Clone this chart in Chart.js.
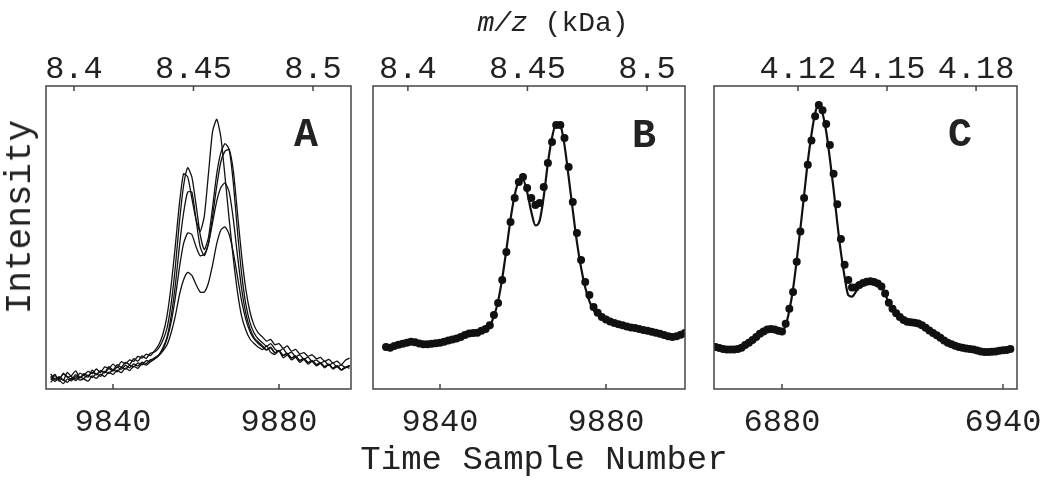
<!DOCTYPE html>
<html>
<head>
<meta charset="utf-8">
<script src="https://cdn.jsdelivr.net/npm/chart.js@4.4.1/dist/chart.umd.min.js"></script>
<style>
body{margin:0;background:#fff;width:1050px;height:481px;overflow:hidden;position:relative;font-family:"Liberation Mono",monospace;color:#222}
canvas{position:absolute;left:0;top:0}
.t{position:absolute;line-height:1;white-space:nowrap;transform:translate(-50%,-50%)}
.lab{font-weight:bold;font-size:40px}
</style>
</head>
<body>
<canvas id="cA" width="1050" height="481"></canvas>
<canvas id="cB" width="1050" height="481"></canvas>
<canvas id="cC" width="1050" height="481"></canvas>

<div class="t" style="left:553px;top:24px;font-size:28px"><i>m/z</i> (kDa)</div>
<div class="t" style="left:544px;top:460px;font-size:34px">Time Sample Number</div>
<div class="t" style="left:21px;top:217px;font-size:36px;transform:translate(-50%,-50%) rotate(-90deg)">Intensity</div>
<div class="t lab" style="left:306px;top:136px">A</div>
<div class="t lab" style="left:644px;top:137px">B</div>
<div class="t lab" style="left:960px;top:136px">C</div>

<script>
// panel A: five raw spectra, one value per time sample from 9825
const firstA = 9825;
const traceA1 = [3.5, 4.8, 2.6, 5.2, 3.9, 4.4, 6.0, 3.8, 4.6, 5.8,
  5.1, 6.6, 5.4, 7.3, 6.8, 8.2, 7.1, 9.0, 8.3, 9.6,
  9.1, 10.8, 10.2, 11.5, 11.0, 12.6, 14.5, 18.0,
  24, 34, 47, 61, 71, 70, 63, 56, 52, 57, 71, 85, 89, 83, 70, 56, 43, 32, 24, 19.5, 16.5, 15, 13.8,
  13.0, 14.2, 12.1, 11.4, 12.6, 10.3, 11.2, 9.6, 10.4, 8.8, 9.7, 8.2, 9.1, 7.6, 8.4, 7.0, 8.1, 6.6, 7.5, 6.2, 7.3, 6.8];
const traceA2 = [5.0, 3.2, 4.1, 2.8, 5.5, 4.0, 3.4, 5.2, 4.5, 3.9,
  6.2, 4.8, 6.0, 5.5, 7.4, 6.3, 8.0, 7.2, 8.8, 8.1,
  10.0, 9.2, 10.9, 10.1, 11.8, 12.2, 13.5, 16.0,
  20, 28, 40, 55, 67, 73, 70, 61, 51, 46, 50, 60, 71, 78, 81, 79, 68, 52, 38, 28, 22, 18.5, 16.5,
  15.3, 14.1, 15.0, 13.2, 12.4, 13.3, 11.5, 12.2, 10.6, 11.3, 9.8, 10.5, 9.0, 9.6, 8.5, 9.2, 7.8, 8.6, 7.2, 8.0, 7.0, 7.6];
const traceA3 = [2.2, 3.6, 3.0, 1.8, 3.3, 2.7, 4.1, 2.9, 3.5, 4.6,
  3.8, 5.0, 4.2, 5.8, 5.1, 6.4, 5.7, 7.1, 6.6, 7.8,
  7.3, 8.6, 8.0, 9.4, 9.0, 10.3, 11.2, 13.5,
  17, 24, 34, 47, 58, 65, 65, 56, 47, 44, 48, 57, 67, 75, 78.5, 79, 72, 58, 44, 33, 25.5, 21, 18.5,
  17.2, 15.8, 16.4, 14.6, 15.0, 13.4, 14.2, 12.5, 13.1, 11.6, 12.0, 10.8, 11.3, 10.0, 10.4, 9.1, 9.8, 8.6, 9.2, 8.0, 9.5, 10.2];
const traceA4 = [4.2, 2.5, 3.8, 3.1, 2.2, 3.6, 2.8, 4.0, 3.3, 2.6,
  4.3, 3.5, 4.9, 4.1, 5.6, 4.8, 6.2, 5.4, 6.9, 6.1,
  7.5, 6.8, 8.4, 7.9, 9.0, 9.8, 11.0, 13.0,
  16.5, 22, 30, 40, 48, 51.5, 51, 47, 44, 44.5, 48, 55, 62, 66.5, 68, 65, 56, 44, 33, 25, 20, 17, 15.5,
  14.3, 13.0, 13.8, 12.0, 12.7, 11.2, 11.8, 10.3, 10.9, 9.5, 10.1, 8.8, 9.4, 8.1, 8.7, 7.4, 8.2, 6.9, 7.7, 6.4, 7.1, 7.8];
const traceA5 = [3.0, 4.4, 3.3, 4.9, 4.1, 3.2, 4.7, 3.6, 5.1, 4.3,
  5.5, 4.7, 6.1, 5.3, 6.7, 5.9, 7.2, 6.5, 7.8, 7.0,
  8.3, 7.6, 8.9, 8.4, 9.6, 10.1, 11.0, 12.5,
  14.5, 18.5, 24, 31, 36, 38.5, 37.5, 34.5, 32, 32, 35, 41, 48, 52.5, 53.5, 51, 45, 37, 29, 23, 19, 16.5, 15,
  13.9, 12.8, 13.6, 11.9, 12.5, 11.0, 11.6, 10.2, 10.8, 9.4, 10.0, 8.7, 9.3, 8.0, 8.6, 7.3, 8.0, 6.8, 7.5, 6.3, 7.0, 7.7];

// panel B: averaged spectrum (dots) and model fit, from sample 9827
const firstB = 9827;
const dotsB = [13.9, 13.6, 14.2, 14.6, 14.9, 15.3, 15.6, 15.4, 15.0, 14.8,
  14.8, 14.9, 15.1, 15.3, 15.6, 16.0, 16.3, 16.7, 17.2, 17.8,
  18.3, 18.5, 18.6, 19.2, 19.8, 21.0,
  24.4, 28.4, 36.0, 45.2, 55.1, 63.0, 68.3, 70.0, 66.3, 63.0, 60.7, 61.4, 66.7, 74.6, 81.5, 87.1, 87.1, 82.8, 73.3, 61.7, 51.5, 42.6, 35.3, 31.0, 27.1, 25.2, 23.8,
  22.9, 22.3, 21.8, 21.4, 21.0, 20.6, 20.3, 20.1, 19.8, 19.5, 19.2, 18.9, 18.6, 18.2, 17.8, 17.4, 17.2, 17.4, 17.9, 18.5];
const fitB = [13.8, 13.9, 14.2, 14.5, 14.8, 15.1, 15.2, 15.2, 15.1, 15.0,
  15.0, 15.1, 15.2, 15.4, 15.7, 16.0, 16.3, 16.7, 17.2, 17.7,
  18.1, 18.5, 18.8, 19.2, 19.8, 21.0,
  24, 29, 36.5, 46, 56, 64, 68.5, 69, 65, 58.5, 54, 55.5, 63.5, 74.5, 83, 87.5, 87, 80.5, 70, 59, 48.5, 40, 33.5, 29, 26, 24.5, 23.5,
  22.8, 22.2, 21.8, 21.4, 21.0, 20.6, 20.3, 20.0, 19.7, 19.4, 19.1, 18.8, 18.5, 18.2, 17.9, 17.6, 17.4, 17.5, 17.9, 18.4];

// panel C: second peak, from sample 6862
const firstC = 6862;
const dotsC = [13.9, 13.5, 13.2, 13.0, 13.0, 13.0, 13.2, 13.6, 14.5, 15.3,
  16.2, 17.2, 18.2, 19.0, 19.6, 19.8, 19.6, 19.2, 19.0, 21.5,
  26.5, 32, 42, 52, 63, 74, 82, 90, 93.7, 92,
  87.5, 80.5, 71, 61, 49.5, 41, 36, 33.5, 33.5, 34.3,
  35, 35.4, 35.6, 35.3, 34.8, 33.8, 31.5, 28.5, 26.5, 25,
  23.8, 22.8, 22.2, 22, 21.9, 21.6, 21, 20.2, 19.3, 18.5,
  17.7, 16.9, 16, 15.3, 14.8, 14.3, 13.9, 13.6, 13.4, 13.2,
  13, 12.7, 12.4, 12.2, 12.2, 12.3, 12.4, 12.6, 12.8, 12.9, 13.2];
const fitC = [13.8, 13.5, 13.2, 13.0, 13.0, 13.0, 13.2, 13.6, 14.4, 15.3,
  16.2, 17.2, 18.1, 18.9, 19.5, 19.7, 19.6, 19.3, 19.2, 21,
  26, 33, 42.5, 53, 64, 75, 84, 91, 94, 91,
  85, 76, 66, 55, 45, 37, 31, 30.5, 32, 34,
  35, 35.4, 35.5, 35.2, 34.7, 33.6, 31.3, 28.5, 26.5, 25,
  23.8, 22.8, 22.2, 22, 21.9, 21.6, 21, 20.2, 19.3, 18.5,
  17.7, 16.9, 16, 15.3, 14.8, 14.3, 13.9, 13.6, 13.4, 13.2,
  13, 12.7, 12.4, 12.2, 12.2, 12.3, 12.4, 12.6, 12.8, 12.9, 13.2];

// axis ticks
const timeTicksAB = [9840, 9880];
const timeTicksC = [6880, 6940];
const mzTicksAB = [8.4, 8.45, 8.5];
const mzTicksC = [4.12, 4.15, 4.18];

function pts(first, vals) {
  return vals.map((v, i) => ({x: first + i, y: v}));
}

const ink = '#111';
const frame = {
  id: 'frame',
  afterDraw(chart) {
    const ctx = chart.ctx, a = chart.chartArea;
    const sx = chart.scales.x, st = chart.scales.x2;
    ctx.save();
    ctx.strokeStyle = '#444';
    ctx.lineWidth = 1.5;
    ctx.strokeRect(a.left, a.top, a.right - a.left, a.bottom - a.top);
    ctx.beginPath();
    sx.ticks.forEach(t => {
      const p = sx.getPixelForValue(t.value);
      ctx.moveTo(p, a.bottom); ctx.lineTo(p, a.bottom - 5);
    });
    st.ticks.forEach(t => {
      const p = st.getPixelForValue(t.value);
      ctx.moveTo(p, a.top); ctx.lineTo(p, a.top + 5);
    });
    ctx.stroke();
    ctx.restore();
  }
};

function makePanel(id, box, xr, xTicks, mr, mTicks, datasets) {
  const tickFont = {family: 'Liberation Mono', size: 32, lineHeight: 1};
  new Chart(document.getElementById(id), {
    type: 'line',
    data: {datasets: datasets},
    options: {
      responsive: false,
      animation: false,
      devicePixelRatio: 1,
      events: [],
      layout: {padding: {left: box[0], right: 1050 - box[1], top: box[2] - 40, bottom: 481 - box[3] - 60}},
      plugins: {legend: {display: false}, tooltip: {enabled: false}},
      scales: {
        x: {
          type: 'linear', position: 'bottom', min: xr[0], max: xr[1],
          afterBuildTicks: s => { s.ticks = xTicks.map(v => ({value: v})); },
          afterFit: s => { s.height = 60; s.paddingLeft = 0; s.paddingRight = 0; },
          grid: {display: false, drawTicks: false},
          border: {display: false},
          ticks: {padding: 17.5, font: tickFont, color: '#222', maxRotation: 0, autoSkip: false, callback: v => String(v)}
        },
        x2: {
          type: 'linear', position: 'top', min: mr[0], max: mr[1],
          afterBuildTicks: s => { s.ticks = mTicks.map(v => ({value: v})); },
          afterFit: s => { s.height = 40; s.paddingLeft = 0; s.paddingRight = 0; },
          grid: {display: false, drawTicks: false},
          border: {display: false},
          ticks: {padding: 0, font: tickFont, color: '#222', maxRotation: 0, autoSkip: false, callback: v => String(v)}
        },
        y: {display: false, min: 0, max: 100}
      }
    },
    plugins: [frame]
  });
}

function traceSet(first, vals) {
  return {data: pts(first, vals), borderColor: ink, borderWidth: 1.3, pointRadius: 0, tension: 0.2};
}
function fitSet(first, vals) {
  return {data: pts(first, vals), borderColor: ink, borderWidth: 2.2, pointRadius: 0, cubicInterpolationMode: 'monotone'};
}
function dotSet(first, vals) {
  return {data: pts(first, vals), showLine: false, pointRadius: 4, pointBackgroundColor: ink, pointBorderWidth: 0};
}

makePanel('cA', [46, 351, 86, 389], [9823.86, 9897.35], timeTicksAB, [8.3883, 8.5159], mzTicksAB, [
  traceSet(firstA, traceA1), traceSet(firstA, traceA2), traceSet(firstA, traceA3),
  traceSet(firstA, traceA4), traceSet(firstA, traceA5)
]);
makePanel('cB', [373, 685, 86, 389], [9823.86, 9899.04], timeTicksAB, [8.3854, 8.5159], mzTicksAB, [
  fitSet(firstB, fitB), dotSet(firstB, dotsB)
]);
makePanel('cC', [714, 1017, 86, 389], [6861.54, 6943.8], timeTicksC, [4.0917, 4.1938], mzTicksC, [
  fitSet(firstC, fitC), dotSet(firstC, dotsC)
]);
</script>
</body>
</html>
